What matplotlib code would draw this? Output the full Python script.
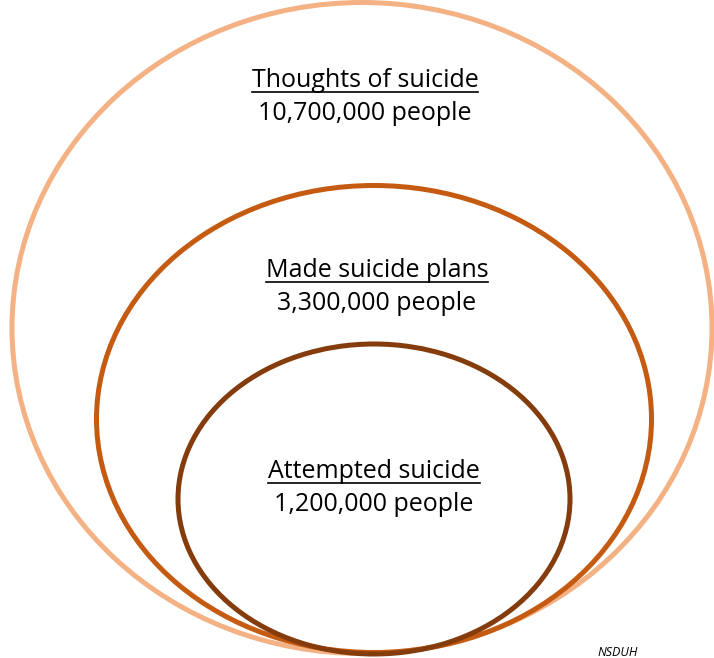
import matplotlib
matplotlib.use("Agg")
import matplotlib.pyplot as plt
from matplotlib.patches import Ellipse

# Nested circles: suicidal thoughts, plans and attempts (NSDUH)
titles = ["Thoughts of suicide", "Made suicide plans", "Attempted suicide"]
people = [10700000, 3300000, 1200000]
colors = ["#F4B183", "#C55A11", "#843C0C"]

# ellipse geometry in pixel units (x centre, y centre, width, height)
cx = [362, 374, 374]
cy = [328, 419, 499]
widths = [700, 555, 392]
heights = [651, 467, 310]

# label anchors (centre x, baseline of title, baseline of count)
label_x = [365, 377, 374]
title_y = [87, 277, 478]
count_y = [120, 310, 511]

fig = plt.figure(figsize=(7.14, 6.58), dpi=100)
ax = fig.add_axes([0, 0, 1, 1])
ax.set_xlim(0, 714)
ax.set_ylim(658, 0)
ax.axis("off")

for i in range(len(titles)):
    e = Ellipse((cx[i], cy[i]), widths[i], heights[i], fill=False,
                edgecolor=colors[i], linewidth=3.6)
    ax.add_patch(e)

font = "Open Sans"
fig.canvas.draw()
renderer = fig.canvas.get_renderer()
for i in range(len(titles)):
    t = ax.text(label_x[i], title_y[i], titles[i], ha="center", va="baseline",
                fontsize=18, family=font, color="black")
    ax.text(label_x[i], count_y[i], "{:,} people".format(people[i]), ha="center",
            va="baseline", fontsize=18, family=font, color="black")
    # underline the title
    bb = t.get_window_extent(renderer).transformed(ax.transData.inverted())
    x0, x1 = min(bb.x0, bb.x1), max(bb.x0, bb.x1)
    ax.plot([x0, x1], [title_y[i] + 5, title_y[i] + 5], color="black", lw=1.2)

ax.text(618, 656, "NSDUH", ha="center", va="baseline", fontsize=9,
        style="italic", family=font, color="black")

fig.savefig("out.png", dpi=100)
